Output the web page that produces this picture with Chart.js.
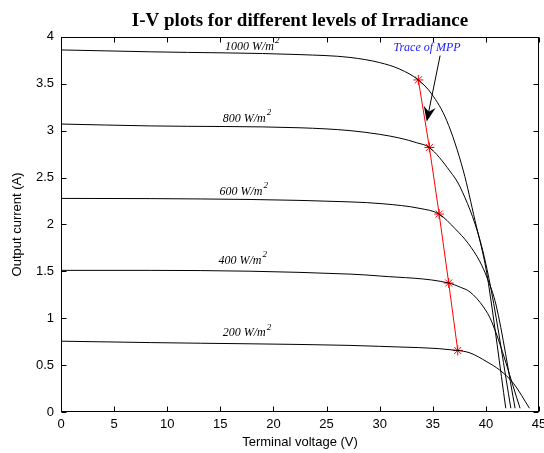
<!DOCTYPE html>
<html>
<head>
<meta charset="utf-8">
<script src="https://cdn.jsdelivr.net/npm/chart.js@4/dist/chart.umd.min.js"></script>
<style>
  html, body { margin: 0; padding: 0; background: #fff; }
  #wrap { width: 544px; height: 453px; }
</style>
</head>
<body>
<div id="wrap"><canvas id="iv"></canvas></div>
<script>
// I-V curves (volts, amps)
const v1000 = [0, 8.4, 22.5, 27.2, 30, 31.9, 33.64, 34.9, 36.3, 37.88, 38.98, 39.92, 40.24, 41.87];
const i1000 = [3.86, 3.84, 3.81, 3.78, 3.725, 3.655, 3.54, 3.39, 3.11, 2.57, 2.04, 1.58, 1.37, 0.04];

const v800 = [0, 8.4, 22.5, 27.2, 30, 31.9, 33.5, 34.68, 36.6, 37.57, 39.45, 40.5, 42.35];
const i800 = [3.07, 3.05, 3.03, 3.00, 2.96, 2.92, 2.87, 2.82, 2.57, 2.40, 1.83, 1.30, 0.04];

const v600 = [0, 8.4, 27.2, 30.3, 33.8, 35.6, 37.1, 38.35, 39.45, 40.08, 40.96, 42.75];
const i600 = [2.277, 2.275, 2.24, 2.22, 2.17, 2.11, 1.954, 1.795, 1.60, 1.44, 1.14, 0.04];

const v400 = [0, 8.4, 27.2, 30, 36.5, 37.6, 38.5, 39.77, 40.56, 43.22];
const i400 = [1.51, 1.51, 1.47, 1.45, 1.375, 1.33, 1.28, 1.12, 0.96, 0.04];

const v200 = [0, 8.4, 27.2, 30, 37.35, 38.5, 40.1, 41.3, 42.6, 44.1];
const i200 = [0.755, 0.74, 0.71, 0.70, 0.656, 0.63, 0.535, 0.447, 0.305, 0.04];

// maximum power points
const mppV = [33.64, 34.68, 35.6, 36.5, 37.35];
const mppI = [3.54, 2.82, 2.11, 1.375, 0.656];

// curve labels and where they sit (data coords)
const curveLabels = ['1000 W/m', '800 W/m', '600 W/m', '400 W/m', '200 W/m'];
const labelV = [18.0, 17.5, 17.2, 17.1, 17.5];
const labelI = [3.89, 3.13, 2.35, 1.61, 0.84];

// "Trace of MPP" note: text, arrow tail, arrow tip
const noteText = 'Trace of MPP';
const noteVI = [34.46, 3.886];
const arrowFrom = [35.69, 3.80];
const arrowTo = [34.43, 3.096];

const toPts = (vs, is) => vs.map((v, k) => ({ x: v, y: is[k] }));

const curve = (vs, is) => ({
    data: toPts(vs, is),
    borderColor: '#000',
    borderWidth: 1,
    pointRadius: 0,
    cubicInterpolationMode: 'monotone',
    fill: false
});

// box + inward ticks on all four sides, plus the text notes
const framePlugin = {
    id: 'frame',
    afterDatasetsDraw(chart) {
        const { ctx, chartArea: a, scales: { x, y } } = chart;
        const L = Math.round(a.left) + 0.5, R = Math.round(a.right) - 0.5;
        const T = Math.round(a.top) + 0.5, B = Math.round(a.bottom) - 0.5;
        ctx.save();
        ctx.strokeStyle = '#000';
        ctx.lineWidth = 1;
        ctx.strokeRect(L, T, R - L, B - T);
        ctx.beginPath();
        x.ticks.forEach(t => {
            const px = Math.round(x.getPixelForValue(t.value)) + 0.5;
            ctx.moveTo(px, B); ctx.lineTo(px, B - 5);
            ctx.moveTo(px, T); ctx.lineTo(px, T + 5);
        });
        y.ticks.forEach(t => {
            const py = Math.round(y.getPixelForValue(t.value)) + 0.5;
            ctx.moveTo(L, py); ctx.lineTo(L + 5, py);
            ctx.moveTo(R, py); ctx.lineTo(R - 5, py);
        });
        ctx.stroke();

        // irradiance labels with superscript 2
        ctx.fillStyle = '#000';
        ctx.textBaseline = 'middle';
        curveLabels.forEach((txt, k) => {
            const cx = x.getPixelForValue(labelV[k]);
            const cy = y.getPixelForValue(labelI[k]);
            ctx.font = 'italic 12px "Liberation Serif"';
            const w1 = ctx.measureText(txt).width;
            ctx.font = 'italic 9px "Liberation Serif"';
            const w2 = ctx.measureText('2').width;
            const x0 = cx - (w1 + w2 + 1) / 2;
            ctx.textAlign = 'left';
            ctx.font = 'italic 12px "Liberation Serif"';
            ctx.fillText(txt, x0, cy);
            ctx.font = 'italic 9px "Liberation Serif"';
            ctx.fillText('2', x0 + w1 + 1, cy - 6);
        });

        // Trace of MPP note
        ctx.fillStyle = '#2020ff';
        ctx.textAlign = 'center';
        ctx.font = 'italic 12px "Liberation Serif"';
        ctx.fillText(noteText, x.getPixelForValue(noteVI[0]), y.getPixelForValue(noteVI[1]));

        const x1 = x.getPixelForValue(arrowFrom[0]), y1 = y.getPixelForValue(arrowFrom[1]);
        const x2 = x.getPixelForValue(arrowTo[0]), y2 = y.getPixelForValue(arrowTo[1]);
        const ang = Math.atan2(y2 - y1, x2 - x1);
        ctx.strokeStyle = '#000';
        ctx.beginPath();
        ctx.moveTo(x1, y1);
        ctx.lineTo(x2 - 8 * Math.cos(ang), y2 - 8 * Math.sin(ang));
        ctx.stroke();
        ctx.fillStyle = '#000';
        ctx.translate(x2, y2);
        ctx.rotate(ang);
        ctx.beginPath();
        ctx.moveTo(0, 0);
        ctx.lineTo(-15, -6);
        ctx.lineTo(-10, 0);
        ctx.lineTo(-15, 6);
        ctx.closePath();
        ctx.fill();
        ctx.restore();
    }
};

const tickFont = { family: '"Liberation Sans", Arial, sans-serif', size: 13 };

new Chart(document.getElementById('iv'), {
    type: 'line',
    data: {
        datasets: [
            curve(v1000, i1000),
            curve(v800, i800),
            curve(v600, i600),
            curve(v400, i400),
            curve(v200, i200),
            {
                data: toPts(mppV, mppI),
                borderColor: '#ff0000',
                borderWidth: 1,
                pointStyle: 'star',
                pointRadius: 5,
                pointBorderColor: '#ff0000',
                pointBorderWidth: 1,
                tension: 0,
                fill: false
            }
        ]
    },
    options: {
        responsive: true,
        maintainAspectRatio: false,
        animation: false,
        layout: { padding: { left: 0, right: 5, top: 0, bottom: 0 }, autoPadding: false },
        plugins: {
            legend: { display: false },
            tooltip: { enabled: false },
            title: {
                display: true,
                fullSize: false,
                text: 'I-V plots for different levels of Irradiance',
                color: '#000',
                font: { family: '"Liberation Serif", "Times New Roman", serif', size: 19, weight: 'bold', lineHeight: 1.2 },
                padding: { top: 10, bottom: 4 }
            }
        },
        scales: {
            x: {
                type: 'linear',
                min: 0, max: 45,
                ticks: { stepSize: 5, color: '#000', font: tickFont, padding: 5, maxRotation: 0 },
                grid: { display: false, drawTicks: false },
                border: { display: false },
                title: { display: true, text: 'Terminal voltage (V)', color: '#000', font: tickFont, padding: { top: 0, bottom: 3 } },
                afterFit: s => { s.height = 41; s.paddingLeft = 0; s.paddingRight = 0; }
            },
            y: {
                type: 'linear',
                min: 0, max: 4,
                ticks: { stepSize: 0.5, color: '#000', font: tickFont, padding: 7, callback: v => String(v) },
                grid: { display: false, drawTicks: false },
                border: { display: false },
                title: { display: true, text: 'Output current (A)', color: '#000', font: tickFont, padding: { top: 10, bottom: 0 } },
                afterFit: s => { s.width = 61; s.paddingTop = 0; s.paddingBottom = 0; }
            }
        }
    },
    plugins: [framePlugin]
});
</script>
</body>
</html>
